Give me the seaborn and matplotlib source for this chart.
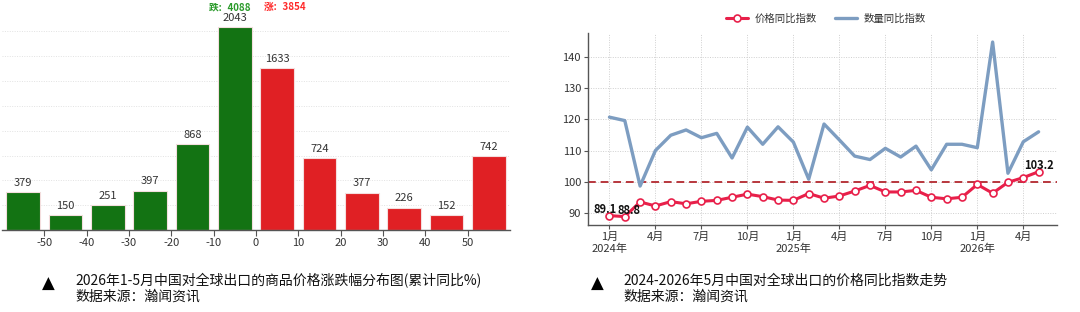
import matplotlib
matplotlib.use("Agg")
import matplotlib.pyplot as plt
import seaborn as sns
import pandas as pd
import numpy as np

# ---------------- data ----------------
bin_centers = [-55, -45, -35, -25, -15, -5, 5, 15, 25, 35, 45, 55]
bin_counts = [379, 150, 251, 397, 868, 2043, 1633, 724, 377, 226, 152, 742]
bin_ticks = [-50, -40, -30, -20, -10, 0, 10, 20, 30, 40, 50]
fall_total = 4088
rise_total = 3854

months = list(range(29))  # 2024-01 .. 2026-05
price_idx = [89.1, 88.8, 93.5, 92.2, 93.6, 92.9, 93.7, 94.0, 95.0, 96.0,
             95.2, 94.1, 94.0, 96.2, 94.7, 95.4, 97.0, 98.8, 96.7, 96.7,
             97.2, 95.0, 94.5, 95.0, 99.1, 96.3, 99.8, 101.3, 103.2]
qty_idx = [120.7, 119.6, 98.6, 110.0, 114.9, 116.6, 114.1, 115.5, 107.6, 117.5,
           112.0, 117.6, 112.7, 100.8, 118.5, 113.4, 108.2, 107.1, 110.7, 107.9,
           111.4, 103.8, 112.0, 112.0, 110.9, 144.8, 102.7, 112.8, 116.0]
month_ticks = [0, 3, 6, 9, 12, 15, 18, 21, 24, 27]
month_labels = ["1月\n2024年", "4月", "7月", "10月", "1月\n2025年", "4月",
                "7月", "10月", "1月\n2026年", "4月"]
label_points = [0, 1, 28]

caption_left = "2026年1-5月中国对全球出口的商品价格涨跌幅分布图(累计同比%)"
caption_right = "2024-2026年5月中国对全球出口的价格同比指数走势"
source_text = "数据来源：瀚闻资讯"

# ---------------- style ----------------
sns.set_theme(style="white")
plt.rcParams["font.family"] = ["Noto Sans CJK SC", "DejaVu Sans"]
plt.rcParams["axes.unicode_minus"] = False

GREEN = "#137313"
RED = "#E02024"
TXT = "#333333"
SPINE = "#555555"
PRICE_C = "#E8204A"
QTY_C = "#7D9DC1"

fig = plt.figure(figsize=(10.8, 3.12), dpi=100)

# ---------------- left: histogram bars ----------------
ax1 = fig.add_axes([2 / 1080, 1 - 230 / 312, 508 / 1080, 222 / 312])
df1 = pd.DataFrame({"x": bin_centers, "n": bin_counts,
                    "side": ["跌" if c < 0 else "涨" for c in bin_centers]})
sns.barplot(data=df1, x="x", y="n", hue="side", native_scale=True,
            palette={"跌": GREEN, "涨": RED}, width=0.8, dodge=False,
            saturation=1, edgecolor="#f4dede", linewidth=0.8, legend=False,
            ax=ax1)
for cont in ax1.containers:
    ax1.bar_label(cont, fmt="%d", padding=3, fontsize=8, color=TXT)
ax1.set_xlim(-60, 60)
ax1.set_ylim(0, 2235)
ax1.set_xticks(bin_ticks)
ax1.set_xticklabels([str(t) for t in bin_ticks])
ax1.set_yticks(np.arange(250, 2001, 250))
ax1.set_yticklabels([])
ax1.tick_params(axis="y", length=0)
ax1.tick_params(axis="x", length=4, width=0.8, color=SPINE, labelsize=8,
                labelcolor=TXT, pad=2, bottom=True)
ax1.grid(axis="y", linestyle=(0, (1, 1.5)), color="#e2e2e2", linewidth=0.7)
ax1.set_axisbelow(True)
ax1.set_xlabel("")
ax1.set_ylabel("")
for s in ["top", "right", "left"]:
    ax1.spines[s].set_visible(False)
ax1.spines["bottom"].set_color(SPINE)
ax1.spines["bottom"].set_linewidth(1.0)

fig.text(230 / 1080, 1 - 7 / 312, f"跌：{fall_total}", color="#2A9A2A",
         fontsize=7, fontweight="bold", ha="center", va="center")
fig.text(285 / 1080, 1 - 7 / 312, f"涨：{rise_total}", color="#FF2A2A",
         fontsize=7, fontweight="bold", ha="center", va="center")

# ---------------- right: index lines ----------------
ax2 = fig.add_axes([588 / 1080, 1 - 225 / 312, 469 / 1080, 192 / 312])
df2 = pd.DataFrame({"m": months, "price": price_idx, "qty": qty_idx})
sns.lineplot(data=df2, x="m", y="qty", color=QTY_C, linewidth=2.4,
             label="数量同比指数", ax=ax2, zorder=3)
sns.lineplot(data=df2, x="m", y="price", color=PRICE_C, linewidth=2.2,
             marker="o", markersize=5, markerfacecolor="white",
             markeredgecolor=PRICE_C, markeredgewidth=1.2,
             label="价格同比指数", ax=ax2, zorder=4)
ax2.axhline(100, color="#B8373D", linestyle=(0, (4, 2.5)), linewidth=1.4, zorder=2)
label_dx = {0: -3, 1: 3, 28: 0}
for i in label_points:
    ax2.annotate(f"{price_idx[i]:.1f}", (months[i], price_idx[i]),
                 xytext=(label_dx[i], 0), textcoords="offset points",
                 ha="center", va="bottom", fontsize=8, fontweight="bold",
                 color="#111111", zorder=6)
ax2.set_xlim(-1.4, 29.2)
ax2.set_ylim(86.1, 147.7)
ax2.set_xticks(month_ticks)
ax2.set_xticklabels(month_labels)
ax2.set_yticks([90, 100, 110, 120, 130, 140])
ax2.tick_params(axis="both", labelsize=8, labelcolor=TXT, length=3,
                width=0.8, color=SPINE, left=True, bottom=True, pad=2)
ax2.grid(True, linestyle=(0, (1, 1.5)), color="#cfcfcf", linewidth=0.7)
ax2.set_axisbelow(True)
ax2.set_xlabel("")
ax2.set_ylabel("")
for s in ["top", "right"]:
    ax2.spines[s].set_visible(False)
for s in ["left", "bottom"]:
    ax2.spines[s].set_color(SPINE)
    ax2.spines[s].set_linewidth(1.0)

h, l = ax2.get_legend_handles_labels()
ax2.legend_.remove()
order = [l.index("价格同比指数"), l.index("数量同比指数")]
fig.legend([h[i] for i in order], [l[i] for i in order], loc="center",
           bbox_to_anchor=(826 / 1080, 1 - 19 / 312), ncol=2, frameon=False,
           fontsize=7.5, handlelength=2.1, columnspacing=1.8, handletextpad=0.6,
           labelcolor=TXT)

# ---------------- captions ----------------
for tri_x, txt_x, cap in [(48, 75, caption_left), (597, 623, caption_right)]:
    fig.text(tri_x / 1080, 1 - 284 / 312, "▲", fontsize=12, color="black",
             ha="center", va="center", family=["DejaVu Sans"])
    fig.text(txt_x / 1080, 1 - 281 / 312, cap, fontsize=10, color="#111111",
             ha="left", va="center")
    fig.text(txt_x / 1080, 1 - 297 / 312, source_text, fontsize=10,
             color="#111111", ha="left", va="center")

fig.savefig("out.png", dpi=100)
